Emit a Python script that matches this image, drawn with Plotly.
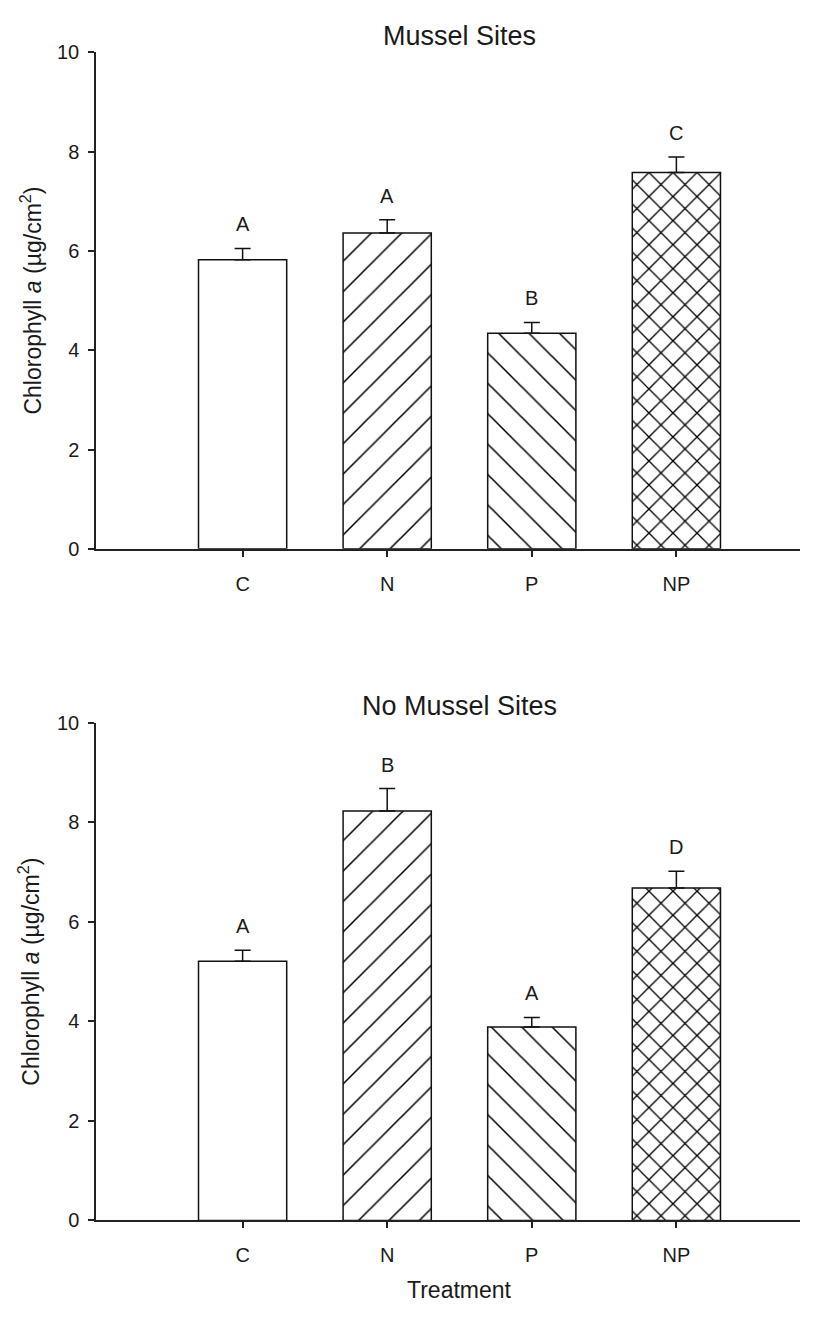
import plotly.graph_objects as go

W, H = 813, 1318

treatments = ["C", "N", "P", "NP"]
patterns = ["", "/", "\\", "x"]

mussel_mean = [5.82, 6.36, 4.34, 7.58]
mussel_se = [0.23, 0.27, 0.22, 0.31]
mussel_letters = ["A", "A", "B", "C"]

nomussel_mean = [5.21, 8.23, 3.89, 6.68]
nomussel_se = [0.22, 0.45, 0.19, 0.34]
nomussel_letters = ["A", "B", "A", "D"]

FONT = "Liberation Sans, Arial, sans-serif"
TXT = "#1a1a1a"

def px_x(p):
    return p / W

def px_y(p):
    return 1 - p / H

pat_size = [10, 21.5, 21.5, 17]
pat_sol = [0.1, 0.072, 0.072, 0.15]

fig = go.Figure()
for mean, se, xa, ya in [(mussel_mean, mussel_se, "x", "y"),
                         (nomussel_mean, nomussel_se, "x2", "y2")]:
    fig.add_trace(go.Bar(
        x=list(range(len(treatments))), y=mean, width=0.61,
        xaxis=xa, yaxis=ya,
        marker=dict(color="white", line=dict(color="#111", width=1.5),
                    pattern=dict(shape=patterns, size=pat_size, solidity=pat_sol,
                                 fgcolor="#000", bgcolor="white", fillmode="replace")),
        error_y=dict(type="data", symmetric=False, array=se,
                     arrayminus=[0] * len(se), color="#111", thickness=1.5, width=8),
        showlegend=False,
    ))

annotations = []
for mean, se, letters, xr, yr in [(mussel_mean, mussel_se, mussel_letters, "x", "y"),
                                   (nomussel_mean, nomussel_se, nomussel_letters, "x2", "y2")]:
    for i, (m, s, l) in enumerate(zip(mean, se, letters)):
        annotations.append(dict(x=i, y=m + s, xref=xr, yref=yr, text=l, showarrow=False,
                                yanchor="middle", yshift=24,
                                font=dict(family=FONT, size=20, color=TXT)))

ytitle = "Chlorophyll <i>a</i> (µg/cm<sup>2</sup>)"
annotations += [
    dict(x=px_x(459), y=px_y(25), xref="paper", yref="paper", text="Mussel Sites",
         showarrow=False, xanchor="center", yanchor="middle",
         font=dict(family=FONT, size=27, color=TXT)),
    dict(x=px_x(459), y=px_y(707), xref="paper", yref="paper", text="No Mussel Sites",
         showarrow=False, xanchor="center", yanchor="middle",
         font=dict(family=FONT, size=27, color=TXT)),
    dict(x=px_x(459), y=px_y(1301), xref="paper", yref="paper", text="Treatment",
         showarrow=False, xanchor="center", yanchor="middle",
         font=dict(family=FONT, size=23, color=TXT)),
    dict(x=px_x(31), y=px_y((42 + 547) / 2), xref="paper", yref="paper", text=ytitle,
         showarrow=False, textangle=-90, xanchor="center", yanchor="middle",
         font=dict(family=FONT, size=23, color=TXT)),
    dict(x=px_x(29), y=px_y((724 + 1230) / 2), xref="paper", yref="paper", text=ytitle,
         showarrow=False, textangle=-90, xanchor="center", yanchor="middle",
         font=dict(family=FONT, size=23, color=TXT)),
]

xcommon = dict(range=[-1.014, 3.855], tickmode="array", tickvals=list(range(len(treatments))),
               ticktext=treatments, showline=True, linecolor="#222", linewidth=1.5,
               ticks="outside", ticklen=6, tickwidth=1.5, tickcolor="#222",
               showgrid=False, zeroline=False, ticklabelstandoff=10,
               tickfont=dict(family=FONT, size=20, color=TXT))
ycommon = dict(range=[0, 10], tickmode="linear", tick0=0, dtick=2,
               showline=True, linecolor="#222", linewidth=1.5,
               ticks="outside", ticklen=6, tickwidth=1.5, tickcolor="#222",
               showgrid=False, zeroline=False, ticklabelstandoff=5,
               tickfont=dict(family=FONT, size=20, color=TXT))

xd = [px_x(96), px_x(800)]
fig.update_layout(
    width=W, height=H, margin=dict(l=0, r=0, t=0, b=0),
    paper_bgcolor="white", plot_bgcolor="white",
    xaxis=dict(domain=xd, anchor="y", **xcommon),
    yaxis=dict(domain=[px_y(547), px_y(42)], anchor="x", **ycommon),
    xaxis2=dict(domain=xd, anchor="y2", **xcommon),
    yaxis2=dict(domain=[px_y(1230), px_y(724)], anchor="x2", **ycommon),
    annotations=annotations,
    bargap=0.39,
)

fig.write_html("out.html")
